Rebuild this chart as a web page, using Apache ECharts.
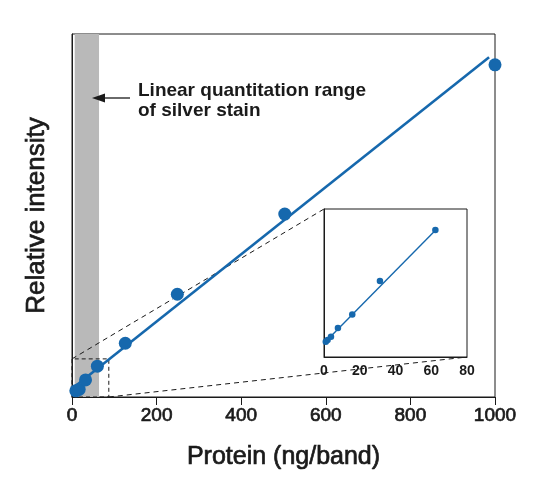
<!DOCTYPE html>
<html>
<head>
<meta charset="utf-8">
<script src="https://cdn.jsdelivr.net/npm/echarts@6/dist/echarts.min.js"></script>
<style>html,body{margin:0;padding:0;background:#fff;}#c{width:550px;height:500px;}</style>
</head>
<body>
<div id="c"></div>
<script>
// ---- data ----
const mainProtein   = [9, 17, 32, 60, 126, 249, 503, 1000];
const mainIntensity = [1.7, 2.1, 4.7, 8.5, 14.8, 28.3, 50.4, 91.5];
const mainFitProtein   = [0, 986];
const mainFitIntensity = [2.3, 93.6];
const insetProtein   = [1, 2, 3.9, 7.8, 15.8, 31.3, 62.3];
const insetIntensity = [2.38, 2.47, 2.63, 3.08, 3.77, 5.48, 8.08];
const insetFitProtein   = [0, 62.5];
const insetFitIntensity = [2.3, 8.08];
const linearRange = [6.4, 63.9];          // shaded band (ng/band)
const zoomProtein = [0, 87];              // dashed zoom window
const zoomIntensity = [0, 10.5];
const mainXTicks = [0, 200, 400, 600, 800, 1000];
const insetXTicks = [0, 20, 40, 60, 80];
const insetIntensityRange = [1.6, 9.15];
const mainIntensityRange = [0, 100];

const FONT = "'Liberation Sans', Arial, Helvetica, sans-serif";
const BLUE = '#1668ad';
const INK = '#1a1a1a';

const pairs = (xs, ys) => xs.map((x, i) => [x, ys[i]]);

const chart = echarts.init(document.getElementById('c'), null, {renderer: 'canvas'});
const option = {
  animation: false,
  backgroundColor: '#fff',
  grid: [
    {left: 72, right: 55, top: 34, bottom: 103, show: true, borderColor: INK, borderWidth: 1, backgroundColor: 'transparent'},
    {left: 324, top: 209, width: 143, height: 148, show: true, borderColor: INK, borderWidth: 1, backgroundColor: '#fff'}
  ],
  xAxis: [
    {
      gridIndex: 0, type: 'value',
      min: mainXTicks[0], max: mainXTicks[mainXTicks.length - 1], interval: mainXTicks[1] - mainXTicks[0],
      name: 'Protein (ng/band)', nameLocation: 'middle', nameGap: 48,
      nameTextStyle: {fontFamily: FONT, fontSize: 25, color: INK, textBorderColor: INK, textBorderWidth: 0.7},
      axisLine: {show: true, lineStyle: {color: INK, width: 1}},
      axisTick: {show: true, length: 8, lineStyle: {color: INK}},
      axisLabel: {fontFamily: FONT, fontSize: 19, color: INK, margin: 9, textBorderColor: INK, textBorderWidth: 0.7,
        formatter: v => String(v)},
      splitLine: {show: false}
    },
    {
      gridIndex: 1, type: 'value',
      min: insetXTicks[0], max: insetXTicks[insetXTicks.length - 1], interval: insetXTicks[1] - insetXTicks[0],
      axisLine: {show: true, lineStyle: {color: INK, width: 1}},
      axisTick: {show: false},
      axisLabel: {fontFamily: FONT, fontSize: 14, fontWeight: 'bold', color: INK, margin: 7,
        formatter: v => String(v)},
      splitLine: {show: false}
    }
  ],
  yAxis: [
    {
      gridIndex: 0, type: 'value', min: mainIntensityRange[0], max: mainIntensityRange[1],
      name: 'Relative intensity', nameLocation: 'middle', nameGap: 22,
      nameTextStyle: {fontFamily: FONT, fontSize: 26, color: INK, textBorderColor: INK, textBorderWidth: 0.7},
      axisLine: {show: true, lineStyle: {color: INK, width: 1}},
      axisTick: {show: false}, axisLabel: {show: false}, splitLine: {show: false}
    },
    {
      gridIndex: 1, type: 'value', min: insetIntensityRange[0], max: insetIntensityRange[1],
      axisLine: {show: true, lineStyle: {color: INK, width: 1}},
      axisTick: {show: false}, axisLabel: {show: false}, splitLine: {show: false}
    }
  ],
  series: [
    {
      name: 'range', type: 'line', xAxisIndex: 0, yAxisIndex: 0, data: [], silent: true,
      markArea: {silent: true, itemStyle: {color: '#b9b9b9'},
        data: [[{xAxis: linearRange[0]}, {xAxis: linearRange[1]}]]}
    },
    {
      name: 'zoom', type: 'line', xAxisIndex: 0, yAxisIndex: 0, data: [], silent: true, z: 3,
      markArea: {silent: true,
        itemStyle: {color: 'rgba(0,0,0,0)', borderColor: INK, borderWidth: 1, borderType: [4, 3]},
        data: [[{coord: [zoomProtein[0], zoomIntensity[0]]}, {coord: [zoomProtein[1], zoomIntensity[1]]}]]}
    },
    {
      name: 'fit', type: 'line', xAxisIndex: 0, yAxisIndex: 0, z: 4,
      data: pairs(mainFitProtein, mainFitIntensity), showSymbol: false, symbol: 'none',
      lineStyle: {color: BLUE, width: 2.6}
    },
    {
      name: 'main', type: 'scatter', xAxisIndex: 0, yAxisIndex: 0, z: 5,
      data: pairs(mainProtein, mainIntensity), symbolSize: 13,
      itemStyle: {color: BLUE, opacity: 1}
    },
    {
      name: 'insetFit', type: 'line', xAxisIndex: 1, yAxisIndex: 1, z: 4,
      data: pairs(insetFitProtein, insetFitIntensity), showSymbol: false, symbol: 'none',
      lineStyle: {color: BLUE, width: 1.4}
    },
    {
      name: 'inset', type: 'scatter', xAxisIndex: 1, yAxisIndex: 1, z: 5,
      data: pairs(insetProtein, insetIntensity), symbolSize: 6.5,
      itemStyle: {color: BLUE, opacity: 1}
    }
  ]
};
chart.setOption(option);

// connector lines from the zoom window to the inset corners, located through the scales
const p1 = chart.convertToPixel({gridIndex: 0}, [zoomProtein[0], zoomIntensity[1]]);
const q1 = chart.convertToPixel({gridIndex: 1}, [insetXTicks[0], insetIntensityRange[1]]);
const p2 = chart.convertToPixel({gridIndex: 0}, [zoomProtein[1], zoomIntensity[0]]);
const q2 = chart.convertToPixel({gridIndex: 1}, [insetXTicks[insetXTicks.length - 1], insetIntensityRange[0]]);
const dash = {stroke: INK, lineWidth: 1, lineDash: [5, 4]};

chart.setOption({
  graphic: [
    {type: 'line', z: 1, silent: true, shape: {x1: p1[0], y1: p1[1], x2: q1[0], y2: q1[1]}, style: dash},
    {type: 'line', z: 1, silent: true, shape: {x1: p2[0], y1: p2[1], x2: q2[0], y2: q2[1]}, style: dash},
    {type: 'line', z: 10, silent: true, shape: {x1: 103, y1: 98, x2: 130, y2: 98}, style: {stroke: INK, lineWidth: 1.3}},
    {type: 'polygon', z: 10, silent: true, shape: {points: [[92, 98], [105, 93.5], [105, 102.5]]}, style: {fill: INK}},
    {type: 'text', z: 10, silent: true, x: 138, y: 101,
      style: {text: 'Linear quantitation range\nof silver stain', font: "bold 19px 'Liberation Sans', Arial, sans-serif",
        lineHeight: 20, fill: INK, verticalAlign: 'middle', align: 'left'}}
  ]
});
</script>
</body>
</html>
